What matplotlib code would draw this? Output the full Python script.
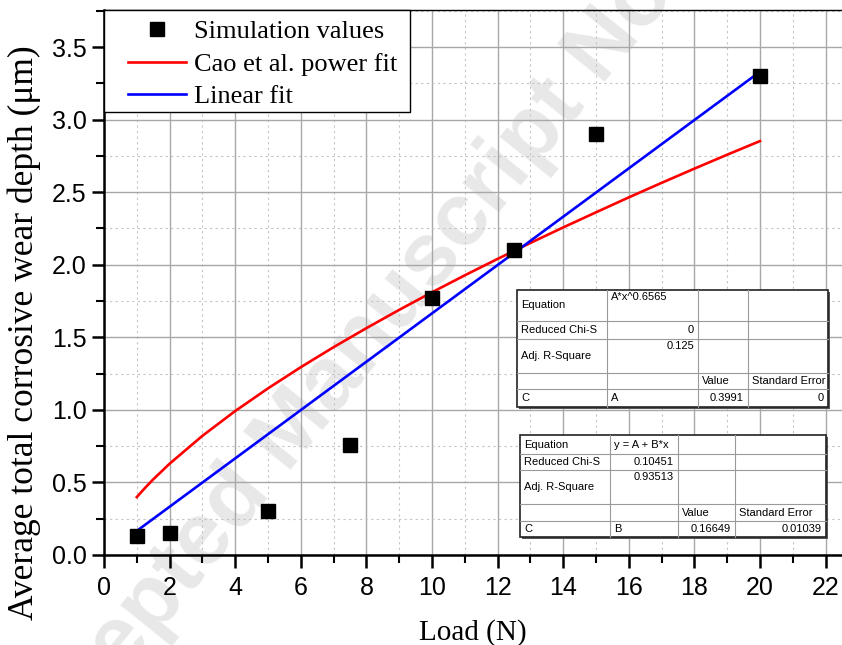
import numpy as np
import matplotlib
matplotlib.use('Agg')
import matplotlib.pyplot as plt
from matplotlib.ticker import MultipleLocator
from matplotlib.lines import Line2D

# simulation results
load = [1, 2, 5, 7.5, 10, 12.5, 15, 20]
wear_depth = [0.13, 0.15, 0.30, 0.76, 1.77, 2.10, 2.90, 3.30]

# Cao et al. power fit
power_x = [1, 1.25, 1.5, 2, 3, 4, 5, 6, 7, 8, 9, 10, 11, 12, 13, 14, 15, 16, 17, 18, 19, 20]
power_y = [0.399, 0.462, 0.521, 0.629, 0.821, 0.992, 1.148, 1.294, 1.432, 1.563, 1.689,
           1.810, 1.927, 2.040, 2.150, 2.257, 2.361, 2.464, 2.564, 2.662, 2.758, 2.852]

# linear fit end points
linear_x = [1, 20]
linear_y = [0.166, 3.330]

x_ticks = [0, 2, 4, 6, 8, 10, 12, 14, 16, 18, 20, 22]
y_ticks = [0.0, 0.5, 1.0, 1.5, 2.0, 2.5, 3.0, 3.5]

power_table = [
    ['Equation', 'A*x^0.6565', '', ''],
    ['Reduced Chi-S', '0', '', ''],
    ['Adj. R-Square', '0.125', '', ''],
    ['', '', 'Value', 'Standard Error'],
    ['C', 'A', '0.3991', '0'],
]
linear_table = [
    ['Equation', 'y = A + B*x', '', ''],
    ['Reduced Chi-S', '0.10451', '', ''],
    ['Adj. R-Square', '0.93513', '', ''],
    ['', '', 'Value', 'Standard Error'],
    ['C', 'B', '0.16649', '0.01039'],
]

W, H = 842, 645
fig = plt.figure(figsize=(W / 100, H / 100), dpi=100)
ax = fig.add_axes([104 / W, 90 / H, (W - 104) / W, 545 / H])
ax.patch.set_visible(False)

serif = ['Liberation Serif', 'DejaVu Serif']
sans = ['Liberation Sans', 'DejaVu Sans']

# watermark behind everything
fig.text(518 / W, 1 - 190 / H, 'Accepted Manuscript Not Copyedited', fontsize=64,
         fontweight='bold', family=sans, color='#e8e8e8', rotation=51,
         rotation_mode='anchor', ha='center', va='baseline', zorder=-5)

ax.plot(power_x, power_y, color='red', lw=1.9, zorder=3)
ax.plot(linear_x, linear_y, color='blue', lw=1.9, zorder=3)
ax.plot(load, wear_depth, 's', color='black', ms=10, zorder=4)

ax.set_xlim(0, 22.5)
ax.set_ylim(0, 3.755)
ax.set_xticks(x_ticks)
ax.set_yticks(y_ticks)
ax.set_yticklabels([f'{v:.1f}' for v in y_ticks])
ax.xaxis.set_minor_locator(MultipleLocator(1))
ax.yaxis.set_minor_locator(MultipleLocator(0.25))
ax.grid(which='major', color='#a8a8a8', lw=1.0, zorder=1)
ax.grid(which='minor', color='#c4c4c4', lw=0.8, ls=(0, (2, 3)), zorder=1)
ax.set_axisbelow(True)

for s in ['left', 'bottom']:
    ax.spines[s].set_linewidth(1.8)
ax.spines['top'].set_linewidth(1.0)
ax.spines['right'].set_visible(False)
ax.tick_params(which='major', direction='out', length=9, width=1.8)
ax.tick_params(which='minor', direction='out', length=6, width=1.5)
ax.tick_params(axis='x', pad=6)
for lab in ax.get_xticklabels() + ax.get_yticklabels():
    lab.set_family(sans)
    lab.set_fontsize(18)

ax.set_xlabel('Load (N)', family=serif, fontsize=21, labelpad=14)
ax.set_ylabel('Average total corrosive wear depth (\u03bcm)', family=serif, fontsize=25.5)
ax.yaxis.set_label_coords((41 - 104) / (W - 104), (555 - 333) / 545)

# legend frame drawn by hand, the entries are placed inside it
fig.patches.append(plt.Rectangle((104 / W, 1 - 112 / H), (410 - 104) / W, (112 - 10) / H,
                                 transform=fig.transFigure, facecolor='white',
                                 edgecolor='black', lw=1.0, zorder=5))
handles = [
    Line2D([], [], marker='s', color='black', ls='none', ms=10),
    Line2D([], [], color='red', lw=1.9),
    Line2D([], [], color='blue', lw=1.9),
]
leg = fig.legend(handles, ['Simulation values', 'Cao et al. power fit', 'Linear fit'],
                 loc='upper left', bbox_to_anchor=(128 / W, 1 - 20 / H), borderaxespad=0,
                 prop={'family': serif, 'size': 19}, frameon=False,
                 handlelength=2.2, labelspacing=0.34, handletextpad=0.3, borderpad=0)
leg.set_zorder(6)


def draw_table(rows, col_edges, row_edges):
    # pixel coordinates, converted to figure fractions
    fx = lambda px: px / W
    fy = lambda py: 1 - py / H
    x0, x1 = col_edges[0], col_edges[-1]
    y0, y1 = row_edges[0], row_edges[-1]
    fig.patches.append(plt.Rectangle((fx(x0 + 2), fy(y1 + 2)), (x1 - x0) / W, (y1 - y0) / H,
                                     transform=fig.transFigure, facecolor='#555555',
                                     edgecolor='none', zorder=7))
    fig.patches.append(plt.Rectangle((fx(x0), fy(y1)), (x1 - x0) / W, (y1 - y0) / H,
                                     transform=fig.transFigure, facecolor='white',
                                     edgecolor='#222222', lw=1.2, zorder=8))
    for cx in col_edges[1:-1]:
        fig.add_artist(Line2D([fx(cx), fx(cx)], [fy(y0), fy(y1)], color='#9a9a9a',
                              lw=0.8, zorder=9))
    for ry in row_edges[1:-1]:
        fig.add_artist(Line2D([fx(x0), fx(x1)], [fy(ry), fy(ry)], color='#9a9a9a',
                              lw=0.8, zorder=9))
    for r, row in enumerate(rows):
        top, bot = row_edges[r], row_edges[r + 1]
        for c, txt in enumerate(row):
            if not txt:
                continue
            left, right = col_edges[c], col_edges[c + 1]
            numeric = txt[0].isdigit()
            if c == 0:
                tx, ha = left + 4, 'left'
                ty, va = (top + bot) / 2, 'center'
            elif numeric:
                tx, ha = right - 4, 'right'
                ty, va = (top + 2, 'top') if r == 2 else ((top + bot) / 2, 'center')
            else:
                tx, ha = left + 4, 'left'
                ty, va = (top + 2, 'top') if r == 0 and bot - top > 24 else ((top + bot) / 2, 'center')
            fig.text(fx(tx), fy(ty), txt, ha=ha, va=va, fontsize=8.0, family=sans,
                     color='black', zorder=10)


draw_table(power_table, [517, 607, 698, 748, 828], [290, 321, 339, 373, 389, 407])
draw_table(linear_table, [520, 610, 678, 735, 826], [435, 454, 470, 504, 521, 537])

fig.savefig('out.png', dpi=100)
